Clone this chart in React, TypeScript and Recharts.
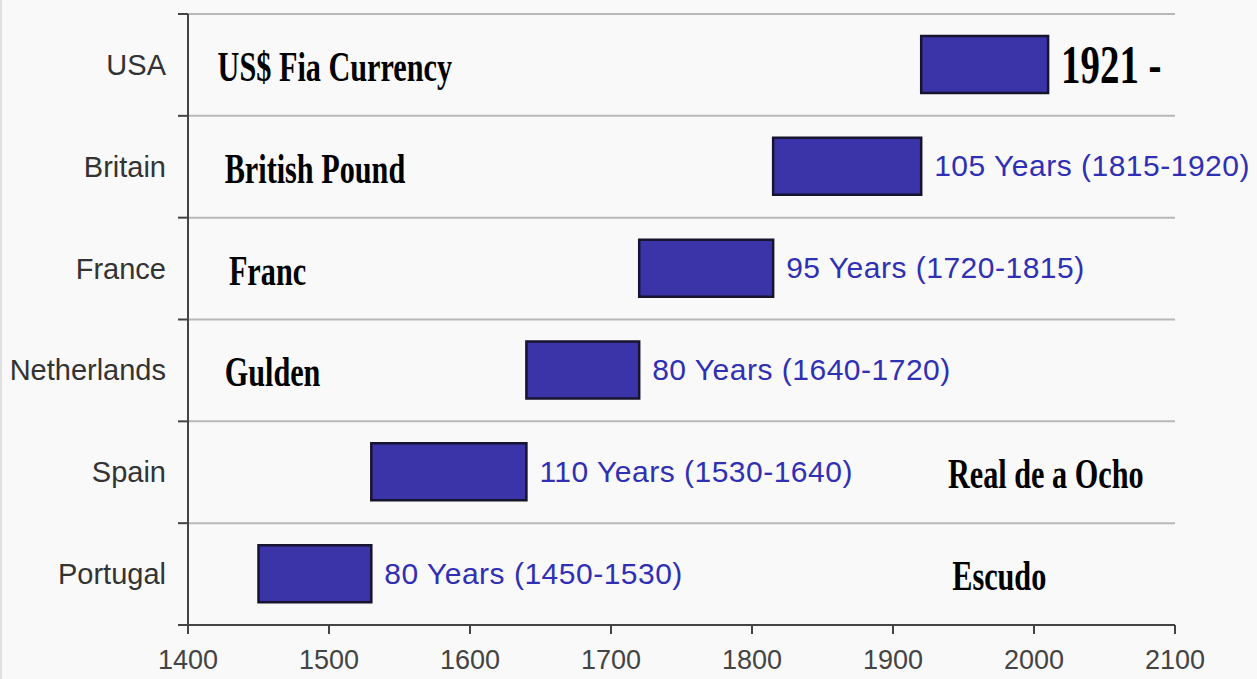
import { BarChart, Bar, XAxis, YAxis, CartesianGrid, LabelList, ReferenceDot } from 'recharts';

const countries = ['USA', 'Britain', 'France', 'Netherlands', 'Spain', 'Portugal'];
const startYears = [1920, 1815, 1720, 1640, 1530, 1450];
const endYears = [2010, 1920, 1815, 1720, 1640, 1530];
const spanLabels = [
  '1921 -',
  '105 Years (1815-1920)',
  '95 Years (1720-1815)',
  '80 Years (1640-1720)',
  '110 Years (1530-1640)',
  '80 Years (1450-1530)',
];
const currencies = ['US$ Fia Currency', 'British Pound', 'Franc', 'Gulden', 'Real de a Ocho', 'Escudo'];
// year at which each currency name starts
const currencyYear = [1421, 1426, 1429, 1426, 1939, 1942];

const xTicks = [1400, 1500, 1600, 1700, 1800, 1900, 2000, 2100];

const data = countries.map((country, i) => ({
  country,
  start: startYears[i],
  end: endYears[i],
  span: spanLabels[i],
}));

const SANS = 'Liberation Sans, Arial, sans-serif';
const SERIF = 'Liberation Serif, Times New Roman, serif';
const AXIS = '#444';
const TICK_SIZE = 10;
const TICK_MARGIN = 12;

// category label + tick marks on the row boundaries (not the row centres)
const CountryTick = (props: any) => {
  const { x, y, payload, index } = props;
  const half = payload.offset || 0;
  const x1 = x + TICK_MARGIN;
  const x2 = x1 + TICK_SIZE;
  return (
    <g>
      <line x1={x1} x2={x2} y1={y - half} y2={y - half} stroke={AXIS} strokeWidth={2} />
      {index === countries.length - 1 && (
        <line x1={x1} x2={x2} y1={y + half} y2={y + half} stroke={AXIS} strokeWidth={2} />
      )}
      <text
        x={x}
        y={y}
        textAnchor="end"
        dominantBaseline="central"
        fontFamily={SANS}
        fontSize={29}
        fill="#333"
      >
        {payload.value}
      </text>
    </g>
  );
};

const SpanLabel = (props: any) => {
  const { x, y, width, height, value, index } = props;
  const tx = x + width + 13;
  const cy = y + height / 2;
  if (index === 0) {
    return (
      <text
        transform={`translate(${tx},${cy + 18}) scale(0.72,1)`}
        fontFamily={SERIF}
        fontWeight="bold"
        fontSize={54}
        fill="#000"
      >
        {value}
      </text>
    );
  }
  return (
    <text x={tx} y={cy + 10} fontFamily={SANS} fontSize={30} letterSpacing={0.5} fill="#3030b4">
      {value}
    </text>
  );
};

const CurrencyName = ({ viewBox, text }: any) => (
  <text
    transform={`translate(${viewBox.x},${viewBox.y + 16}) scale(0.72,1)`}
    fontFamily={SERIF}
    fontWeight="bold"
    fontSize={42}
    fill="#000"
  >
    {text}
  </text>
);

export default function App() {
  return (
    <div
      style={{
        position: 'absolute',
        left: 0,
        top: 0,
        width: 1257,
        height: 679,
        background: '#f9f9f9',
        borderLeft: '2px solid #e0e0e0',
        boxSizing: 'border-box',
      }}
    >
      <BarChart
        width={1255}
        height={679}
        data={data}
        layout="vertical"
        margin={{ top: 14, right: 82, left: 0, bottom: 0 }}
      >
        <CartesianGrid
          vertical={false}
          stroke="#b8b8b8"
          strokeWidth={2}
          horizontalCoordinatesGenerator={({ offset }: any) =>
            [...countries, ''].map((_, i) => offset.top + (i * offset.height) / countries.length)
          }
        />
        <XAxis
          type="number"
          domain={[1400, 2100]}
          ticks={xTicks}
          height={54}
          axisLine={{ stroke: AXIS, strokeWidth: 2 }}
          tickLine={{ stroke: AXIS, strokeWidth: 2 }}
          tickSize={9}
          tickMargin={16}
          tick={{ fontSize: 27, fill: AXIS, fontFamily: SANS }}
        />
        <YAxis
          type="category"
          dataKey="country"
          width={186}
          axisLine={{ stroke: AXIS, strokeWidth: 2 }}
          tickLine={false}
          tickSize={TICK_SIZE}
          tickMargin={TICK_MARGIN}
          tick={<CountryTick />}
        />
        <Bar
          dataKey={(d: any) => [d.start, d.end]}
          barSize={57}
          fill="#3b33a8"
          stroke="#16142e"
          strokeWidth={2.5}
          isAnimationActive={false}
        >
          <LabelList dataKey="span" content={<SpanLabel />} />
        </Bar>
        {currencies.map((name, i) => (
          <ReferenceDot
            key={name}
            x={currencyYear[i]}
            y={countries[i]}
            r={0}
            fill="none"
            stroke="none"
            ifOverflow="visible"
            label={<CurrencyName text={name} />}
          />
        ))}
      </BarChart>
    </div>
  );
}
